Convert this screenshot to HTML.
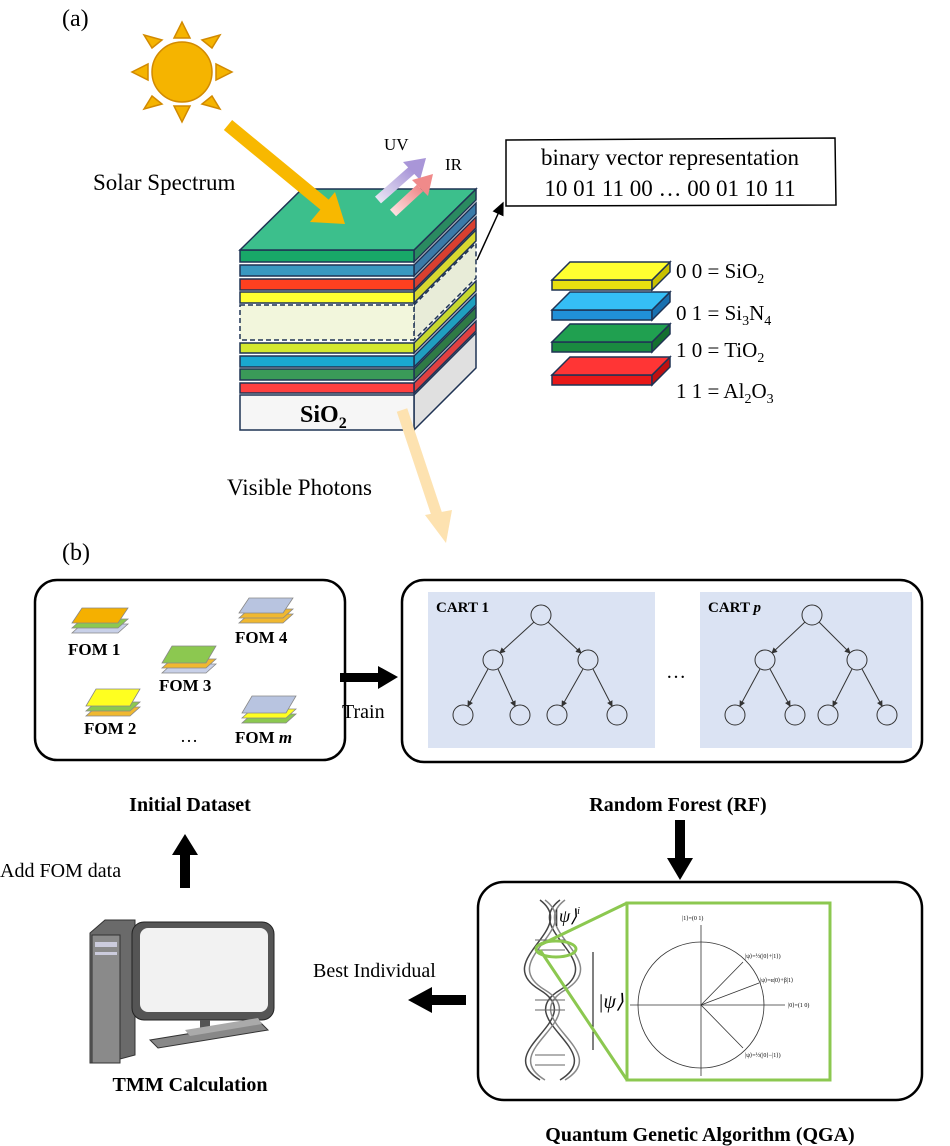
<!DOCTYPE html>
<html><head><meta charset="utf-8"><style>
html,body{margin:0;padding:0;background:#fff}
svg{display:block}
text{font-family:"Liberation Serif",serif;fill:#000}
.b{font-weight:bold}
</style></head><body>
<svg width="950" height="1146" viewBox="0 0 950 1146" xmlns="http://www.w3.org/2000/svg">
<defs>
<marker id="ah" markerWidth="10" markerHeight="10" refX="8" refY="5" orient="auto"><path d="M0,1 L9,5 L0,9 z" fill="#000"/></marker>
<marker id="sa" markerWidth="6" markerHeight="6" refX="5" refY="3" orient="auto"><path d="M0,0 L6,3 L0,6 z" fill="#333"/></marker>
<linearGradient id="uv" x1="0" y1="1" x2="1" y2="0"><stop offset="0" stop-color="#e8e4f4"/><stop offset="1" stop-color="#a996d8"/></linearGradient>
<linearGradient id="ir" x1="0" y1="1" x2="1" y2="0"><stop offset="0" stop-color="#fde0e0"/><stop offset="1" stop-color="#f08a8a"/></linearGradient>
</defs>

<text x="62" y="26" font-size="24">(a)</text>
<g fill="#f5b400" stroke="#d28a00" stroke-width="1.5">
<circle cx="182" cy="72" r="30"/>
<polygon points="174,38 190,38 182,22"/>
<polygon points="174,106 190,106 182,122"/>
<polygon points="148,64 148,80 132,72"/>
<polygon points="216,64 216,80 232,72"/>
<polygon points="152,48 162,40 144,35"/>
<polygon points="212,48 202,40 220,35"/>
<polygon points="152,96 162,104 144,109"/>
<polygon points="212,96 202,104 220,109"/>
</g>
<text x="93" y="190" font-size="23">Solar Spectrum</text>

<g stroke="#1f3354" stroke-width="1.5">
<polygon points="414,395 476,333 476,368 414,430" fill="#e0e0e0"/>
<polygon points="414,383 476,321 476,331 414,393" fill="#e04040"/>
<polygon points="414,369 476,307 476,318 414,380" fill="#2f7a45"/>
<polygon points="414,356 476,294 476,305 414,367" fill="#1f9fbf"/>
<polygon points="414,343 476,281 476,291 414,353" fill="#c8d830"/>
<polygon points="414,305 476,243 476,278 414,340" fill="#e8ecd8" stroke-dasharray="5,3"/>
<polygon points="414,292 476,230 476,241 414,303" fill="#d8d830"/>
<polygon points="414,279 476,217 476,228 414,290" fill="#d84030"/>
<polygon points="414,265 476,203 476,214 414,276" fill="#3a7aa8"/>
<polygon points="414,250 476,189 476,200 414,262" fill="#2a8a60"/>
<rect x="240" y="395" width="174" height="35" fill="#f6f6f6"/>
<rect x="240" y="383" width="174" height="10" fill="#ff4040"/>
<rect x="240" y="369" width="174" height="11" fill="#3a9a58"/>
<rect x="240" y="356" width="174" height="11" fill="#1aa8d0"/>
<rect x="240" y="343" width="174" height="10" fill="#d4e830"/>
<rect x="240" y="305" width="174" height="35" fill="#f2f6dc" stroke-dasharray="5,3"/>
<rect x="240" y="292" width="174" height="11" fill="#ffff30"/>
<rect x="240" y="279" width="174" height="11" fill="#ff4020"/>
<rect x="240" y="265" width="174" height="11" fill="#3a98c0"/>
<rect x="240" y="250" width="174" height="12" fill="#18a868"/>
<polygon points="240,250 414,250 476,189 302,189" fill="#3cbf8c"/>
</g>
<text x="300" y="422" font-size="24" class="b">SiO<tspan font-size="16" dy="6">2</tspan></text>
<line x1="228" y1="125" x2="325" y2="205" stroke="#f8b800" stroke-width="13"/>
<polygon points="310,222 345,224 335,192" fill="#f8b800"/>
<line x1="378" y1="200" x2="412" y2="170" stroke="url(#uv)" stroke-width="9"/>
<polygon points="403,162 426,158 420,180" fill="#a996d8"/>
<line x1="393" y1="213" x2="420" y2="188" stroke="url(#ir)" stroke-width="9"/>
<polygon points="412,180 433,174 428,196" fill="#f08a8a"/>
<text x="384" y="150" font-size="17">UV</text>
<text x="445" y="170" font-size="17">IR</text>
<line x1="402" y1="410" x2="437" y2="515" stroke="#fde2b0" stroke-width="11"/>
<polygon points="425,515 452,510 446,543" fill="#fde2b0"/>
<text x="227" y="495" font-size="23">Visible Photons</text>

<path d="M506,140 L835,138 L836,205 L506,206 Z" fill="#fff" stroke="#000" stroke-width="1.5"/>
<text x="670" y="165" font-size="23" text-anchor="middle">binary vector representation</text>
<text x="670" y="196" font-size="23" text-anchor="middle">10 01 11 00 … 00 01 10 11</text>
<line x1="477" y1="260" x2="503" y2="203" stroke="#000" stroke-width="1.5" marker-end="url(#ah)"/>

<g stroke="#1f3354" stroke-width="1.5">
<polygon points="552,375 652,375 652,385 552,385" fill="#e81818"/><polygon points="652,375 670,357 670,367 652,385" fill="#c01010"/><polygon points="552,375 652,375 670,357 570,357" fill="#ff3535"/>
<polygon points="552,342 652,342 652,352 552,352" fill="#1a8a40"/><polygon points="652,342 670,324 670,334 652,352" fill="#147030"/><polygon points="552,342 652,342 670,324 570,324" fill="#20a050"/>
<polygon points="552,310 652,310 652,320 552,320" fill="#2090d8"/><polygon points="652,310 670,292 670,302 652,320" fill="#1870b0"/><polygon points="552,310 652,310 670,292 570,292" fill="#35bef5"/>
<polygon points="552,280 652,280 652,290 552,290" fill="#e8e010"/><polygon points="652,280 670,262 670,272 652,290" fill="#c8c000"/><polygon points="552,280 652,280 670,262 570,262" fill="#ffff30"/>
</g>
<g font-size="21">
<text x="676" y="278">0 0 = SiO<tspan font-size="14" dy="5">2</tspan></text>
<text x="676" y="320">0 1 = Si<tspan font-size="14" dy="5">3</tspan><tspan dy="-5">N</tspan><tspan font-size="14" dy="5">4</tspan></text>
<text x="676" y="357">1 0 = TiO<tspan font-size="14" dy="5">2</tspan></text>
<text x="676" y="398">1 1 = Al<tspan font-size="14" dy="5">2</tspan><tspan dy="-5">O</tspan><tspan font-size="14" dy="5">3</tspan></text>
</g>

<text x="62" y="560" font-size="24">(b)</text>

<rect x="35" y="580" width="310" height="180" rx="22" fill="none" stroke="#000" stroke-width="2.5"/>
<g stroke="#888" stroke-width="0.8">
<polygon points="82,624 128,624 118,633 72,633" fill="#c8d0e8"/>
<polygon points="82,619 128,619 118,628 72,628" fill="#8cc850"/>
<polygon points="82,608 128,608 118,623 72,623" fill="#f5b000"/>
<polygon points="249,614 293,614 283,623 239,623" fill="#f0b830" />
<polygon points="249,609 293,609 283,618 239,618" fill="#f0b830"/>
<polygon points="249,598 293,598 283,613 239,613" fill="#b8c4e0"/>
<polygon points="172,664 216,664 206,673 162,673" fill="#c8d0e8"/>
<polygon points="172,659 216,659 206,668 162,668" fill="#f0b830"/>
<polygon points="172,646 216,646 206,663 162,663" fill="#8cc850"/>
<polygon points="96,707 140,707 130,716 86,716" fill="#f0b830"/>
<polygon points="96,702 140,702 130,711 86,711" fill="#8cc850"/>
<polygon points="96,689 140,689 130,706 86,706" fill="#ffff20"/>
<polygon points="252,714 296,714 286,723 242,723" fill="#8cc850"/>
<polygon points="252,709 296,709 286,718 242,718" fill="#ffff20"/>
<polygon points="252,696 296,696 286,713 242,713" fill="#b8c4e0"/>
</g>
<g font-size="17" class="b">
<text x="68" y="655" class="b">FOM 1</text>
<text x="235" y="643" class="b">FOM 4</text>
<text x="159" y="691" class="b">FOM 3</text>
<text x="84" y="734" class="b">FOM 2</text>
<text x="235" y="743" class="b">FOM <tspan font-style="italic">m</tspan></text>
</g>
<text x="180" y="742" font-size="18">…</text>
<text x="190" y="811" font-size="20" class="b" text-anchor="middle">Initial Dataset</text>

<rect x="340" y="673" width="40" height="9" fill="#000"/>
<polygon points="378,666 398,677 378,689" fill="#000"/>
<text x="342" y="718" font-size="20">Train</text>

<rect x="402" y="580" width="520" height="182" rx="22" fill="none" stroke="#000" stroke-width="2.5"/>
<rect x="428" y="592" width="227" height="156" fill="#dbe3f3"/>
<rect x="700" y="592" width="212" height="156" fill="#dbe3f3"/>
<text x="436" y="612" font-size="15" class="b">CART 1</text>
<text x="708" y="612" font-size="15" class="b">CART <tspan font-style="italic">p</tspan></text>
<text x="666" y="678" font-size="20">…</text>
<g stroke="#333" stroke-width="1" fill="#dbe3f3">
<line x1="534" y1="622" x2="500" y2="653" marker-end="url(#sa)"/><line x1="548" y1="622" x2="581" y2="653" marker-end="url(#sa)"/>
<line x1="488" y1="669" x2="468" y2="706" marker-end="url(#sa)"/><line x1="498" y1="669" x2="515" y2="706" marker-end="url(#sa)"/>
<line x1="583" y1="669" x2="562" y2="706" marker-end="url(#sa)"/><line x1="593" y1="669" x2="612" y2="706" marker-end="url(#sa)"/>
<line x1="805" y1="622" x2="772" y2="653" marker-end="url(#sa)"/><line x1="819" y1="622" x2="850" y2="653" marker-end="url(#sa)"/>
<line x1="760" y1="669" x2="740" y2="706" marker-end="url(#sa)"/><line x1="770" y1="669" x2="790" y2="706" marker-end="url(#sa)"/>
<line x1="852" y1="669" x2="833" y2="706" marker-end="url(#sa)"/><line x1="862" y1="669" x2="882" y2="706" marker-end="url(#sa)"/>
<circle cx="541" cy="615" r="10"/><circle cx="493" cy="660" r="10"/><circle cx="588" cy="660" r="10"/>
<circle cx="463" cy="715" r="10"/><circle cx="520" cy="715" r="10"/><circle cx="557" cy="715" r="10"/><circle cx="617" cy="715" r="10"/>
<circle cx="812" cy="615" r="10"/><circle cx="765" cy="660" r="10"/><circle cx="857" cy="660" r="10"/>
<circle cx="735" cy="715" r="10"/><circle cx="795" cy="715" r="10"/><circle cx="828" cy="715" r="10"/><circle cx="887" cy="715" r="10"/>
</g>
<text x="678" y="811" font-size="20" class="b" text-anchor="middle">Random Forest (RF)</text>

<rect x="675" y="820" width="10" height="40" fill="#000"/>
<polygon points="667,858 693,858 680,880" fill="#000"/>

<rect x="478" y="882" width="444" height="218" rx="26" fill="none" stroke="#000" stroke-width="2.5"/>
<g fill="none" stroke="#444" stroke-width="1.5">
<path d="M540,900 C580,930 490,960 540,990 C590,1020 490,1050 540,1080"/>
<path d="M560,900 C520,930 610,960 560,990 C510,1020 610,1050 560,1080"/>
<path d="M545,900 C585,930 495,960 545,990 C595,1020 495,1050 545,1080" stroke="#888"/>
<path d="M565,900 C525,930 615,960 565,990 C515,1020 615,1050 565,1080" stroke="#888"/>
</g>
<g stroke="#666" stroke-width="1">
<line x1="535" y1="940" x2="565" y2="940"/><line x1="535" y1="950" x2="565" y2="950"/><line x1="535" y1="1000" x2="565" y2="1000"/><line x1="535" y1="1010" x2="565" y2="1010"/><line x1="535" y1="1055" x2="565" y2="1055"/><line x1="535" y1="1065" x2="565" y2="1065"/>
</g>
<line x1="593" y1="952" x2="593" y2="1050" stroke="#000" stroke-width="1"/>
<text x="554" y="922" font-size="18" font-style="italic">|ψ⟩<tspan font-size="10" dy="-8">i</tspan></text>
<text x="598" y="1008" font-size="20" font-style="italic">|ψ⟩</text>
<ellipse cx="556" cy="949" rx="20" ry="8" fill="none" stroke="#8cc850" stroke-width="3"/>
<line x1="540" y1="945" x2="627" y2="903" stroke="#8cc850" stroke-width="3"/>
<line x1="540" y1="950" x2="627" y2="1080" stroke="#8cc850" stroke-width="3"/>
<rect x="627" y="903" width="203" height="177" fill="#fff" stroke="#8cc850" stroke-width="3"/>
<g stroke="#333" stroke-width="0.8" fill="none">
<circle cx="701" cy="1005" r="63"/>
<line x1="630" y1="1005" x2="785" y2="1005"/>
<line x1="701" y1="1076" x2="701" y2="925"/>
<line x1="701" y1="1005" x2="743" y2="962"/>
<line x1="701" y1="1005" x2="759" y2="983"/>
<line x1="701" y1="1005" x2="743" y2="1048"/>
</g>
<g font-size="6">
<text x="682" y="920">|1⟩=(0 1)</text>
<text x="745" y="958">|ψ⟩=½(|0⟩+|1⟩)</text>
<text x="760" y="982">|ψ⟩=α|0⟩+β|1⟩</text>
<text x="788" y="1007">|0⟩=(1 0)</text>
<text x="745" y="1057">|ψ⟩=½(|0⟩−|1⟩)</text>
</g>
<text x="700" y="1141" font-size="20" class="b" text-anchor="middle">Quantum Genetic Algorithm (QGA)</text>

<rect x="430" y="995" width="36" height="10" fill="#000"/>
<polygon points="432,987 408,1000 432,1013" fill="#000"/>
<text x="313" y="977" font-size="20">Best Individual</text>

<rect x="180" y="852" width="10" height="36" fill="#000"/>
<polygon points="172,855 198,855 185,834" fill="#000"/>
<text x="0" y="877" font-size="20">Add FOM data</text>

<polygon points="90,933 105,920 135,920 135,1055 105,1063 90,1063" fill="#6a6a6a" stroke="#333"/>
<rect x="92" y="935" width="28" height="128" fill="#8a8a8a" stroke="#333"/>
<rect x="95" y="942" width="22" height="5" fill="#ccd"/>
<rect x="95" y="952" width="22" height="3" fill="#ccd"/>
<rect x="132" y="922" width="142" height="98" rx="12" fill="#555" stroke="#222"/>
<rect x="140" y="928" width="128" height="84" rx="8" fill="#f2f2f2"/>
<rect x="200" y="1020" width="10" height="20" fill="#555"/>
<polygon points="150,1040 260,1022 268,1030 158,1048" fill="#888" stroke="#333"/>
<polygon points="185,1030 258,1018 262,1024 190,1036" fill="#aaa"/>
<text x="190" y="1091" font-size="20" class="b" text-anchor="middle">TMM Calculation</text>
</svg>
</body></html>
